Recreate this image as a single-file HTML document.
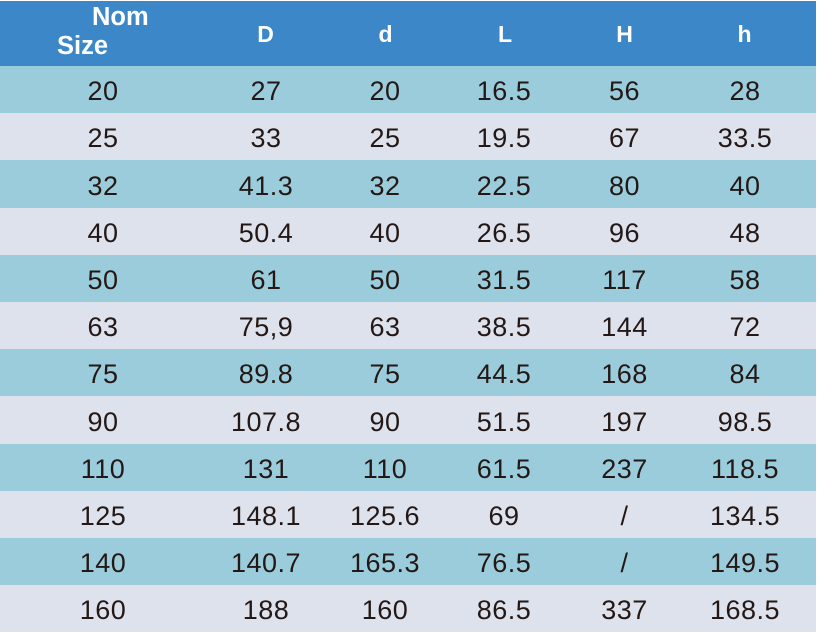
<!DOCTYPE html>
<html>
<head>
<meta charset="utf-8">
<style>
  html,body{margin:0;padding:0;background:#fff;}
  body{width:818px;height:635px;position:relative;overflow:hidden;font-family:"Liberation Sans",Arial,sans-serif;}
  .hdr{position:absolute;left:0;top:1px;width:816px;height:65px;background:#3b87c8;}
  .row{position:absolute;left:0;width:816px;height:47.2px;}
  .odd{background:#9bccdb;}
  .even{background:#dee2ed;}
  .c{position:absolute;width:160px;margin-left:-80px;text-align:center;font-size:27px;line-height:27px;top:12.2px;color:#231815;letter-spacing:0.5px;white-space:nowrap;}
  .h{position:absolute;width:100px;margin-left:-50px;text-align:center;font-size:23px;line-height:23px;top:22px;color:#fff;font-weight:bold;}
  .n{position:absolute;font-size:25.5px;line-height:25.5px;color:#fff;font-weight:bold;white-space:nowrap;}
</style>
</head>
<body>
<div class="hdr">
  <div class="n" style="left:92px;top:4.4px;">Nom</div>
  <div class="n" style="left:57px;top:32.7px;">Size</div>
  <div class="h" style="left:265.5px;">D</div>
  <div class="h" style="left:385.5px;">d</div>
  <div class="h" style="left:505px;">L</div>
  <div class="h" style="left:624.5px;">H</div>
  <div class="h" style="left:744.5px;">h</div>
</div>

<div class="row odd" style="top:66px;">
  <div class="c" style="left:103px;">20</div><div class="c" style="left:266px;">27</div><div class="c" style="left:385px;">20</div><div class="c" style="left:504px;">16.5</div><div class="c" style="left:624.5px;">56</div><div class="c" style="left:745px;">28</div>
</div>
<div class="row even" style="top:113.2px;">
  <div class="c" style="left:103px;">25</div><div class="c" style="left:266px;">33</div><div class="c" style="left:385px;">25</div><div class="c" style="left:504px;">19.5</div><div class="c" style="left:624.5px;">67</div><div class="c" style="left:745px;">33.5</div>
</div>
<div class="row odd" style="top:160.4px;">
  <div class="c" style="left:103px;">32</div><div class="c" style="left:266px;">41.3</div><div class="c" style="left:385px;">32</div><div class="c" style="left:504px;">22.5</div><div class="c" style="left:624.5px;">80</div><div class="c" style="left:745px;">40</div>
</div>
<div class="row even" style="top:207.6px;">
  <div class="c" style="left:103px;">40</div><div class="c" style="left:266px;">50.4</div><div class="c" style="left:385px;">40</div><div class="c" style="left:504px;">26.5</div><div class="c" style="left:624.5px;">96</div><div class="c" style="left:745px;">48</div>
</div>
<div class="row odd" style="top:254.8px;">
  <div class="c" style="left:103px;">50</div><div class="c" style="left:266px;">61</div><div class="c" style="left:385px;">50</div><div class="c" style="left:504px;">31.5</div><div class="c" style="left:624.5px;">117</div><div class="c" style="left:745px;">58</div>
</div>
<div class="row even" style="top:302px;">
  <div class="c" style="left:103px;">63</div><div class="c" style="left:266px;">75,9</div><div class="c" style="left:385px;">63</div><div class="c" style="left:504px;">38.5</div><div class="c" style="left:624.5px;">144</div><div class="c" style="left:745px;">72</div>
</div>
<div class="row odd" style="top:349.2px;">
  <div class="c" style="left:103px;">75</div><div class="c" style="left:266px;">89.8</div><div class="c" style="left:385px;">75</div><div class="c" style="left:504px;">44.5</div><div class="c" style="left:624.5px;">168</div><div class="c" style="left:745px;">84</div>
</div>
<div class="row even" style="top:396.4px;">
  <div class="c" style="left:103px;">90</div><div class="c" style="left:266px;">107.8</div><div class="c" style="left:385px;">90</div><div class="c" style="left:504px;">51.5</div><div class="c" style="left:624.5px;">197</div><div class="c" style="left:745px;">98.5</div>
</div>
<div class="row odd" style="top:443.6px;">
  <div class="c" style="left:103px;">110</div><div class="c" style="left:266px;">131</div><div class="c" style="left:385px;">110</div><div class="c" style="left:504px;">61.5</div><div class="c" style="left:624.5px;">237</div><div class="c" style="left:745px;">118.5</div>
</div>
<div class="row even" style="top:490.8px;">
  <div class="c" style="left:103px;">125</div><div class="c" style="left:266px;">148.1</div><div class="c" style="left:385px;">125.6</div><div class="c" style="left:504px;">69</div><div class="c" style="left:624.5px;">/</div><div class="c" style="left:745px;">134.5</div>
</div>
<div class="row odd" style="top:538px;">
  <div class="c" style="left:103px;">140</div><div class="c" style="left:266px;">140.7</div><div class="c" style="left:385px;">165.3</div><div class="c" style="left:504px;">76.5</div><div class="c" style="left:624.5px;">/</div><div class="c" style="left:745px;">149.5</div>
</div>
<div class="row even" style="top:585.2px;">
  <div class="c" style="left:103px;">160</div><div class="c" style="left:266px;">188</div><div class="c" style="left:385px;">160</div><div class="c" style="left:504px;">86.5</div><div class="c" style="left:624.5px;">337</div><div class="c" style="left:745px;">168.5</div>
</div>
</body>
</html>
